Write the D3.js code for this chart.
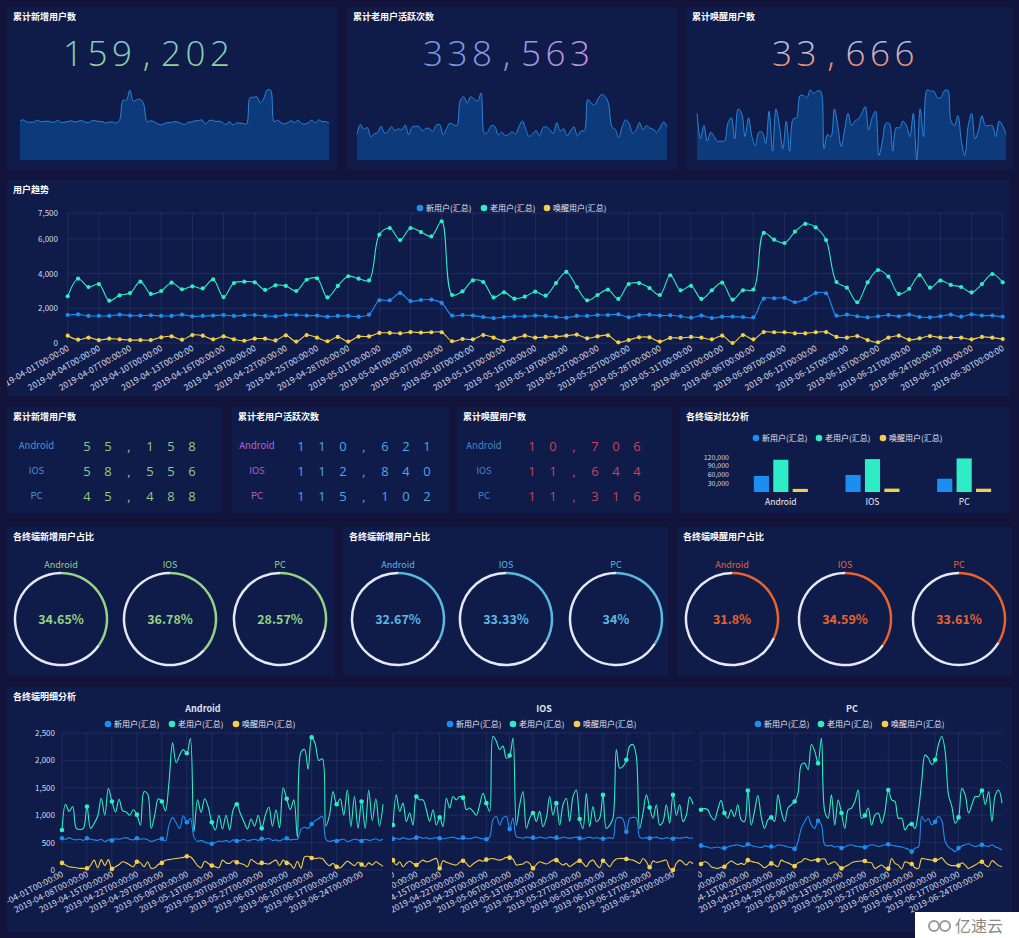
<!DOCTYPE html>
<html><head><meta charset="utf-8">
<script src="https://cdn.jsdelivr.net/npm/d3@7"></script>
<style>
html,body{margin:0;padding:0;background:#13143b;}
svg{display:block}
</style></head><body>
<svg id="c" width="1019" height="938"></svg>
<script>
// ---------------- DATA ----------------
const dates = d3.utcDay.range(Date.UTC(2019,3,1), Date.UTC(2019,6,1)).map(d3.utcFormat("%Y-%m-%dT%H:%M:%S"));
const seriesNames = ["新用户(汇总)","老用户(汇总)","唤醒用户(汇总)"];
const terminals = ["Android","IOS","PC"];

const totalNew = 159202, totalOld = 338563, totalWake = 33666;

const newTotal = [1615,1650,1560,1560,1560,1635,1580,1580,1600,1560,
1560,1635,1540,1560,1580,1615,1560,1600,1615,1560,
1540,1615,1615,1580,1580,1520,1560,1560,1520,1635,
2460,2460,2880,2420,2480,2500,2310,1580,1615,1580,
1500,1440,1500,1540,1540,1580,1560,1500,1460,1560,
1560,1615,1615,1650,1480,1615,1635,1580,1600,1540,
1460,1580,1440,1520,1520,1500,1480,2560,2580,2600,
2350,2540,2880,2870,1580,1635,1540,1480,1540,1615,
1540,1635,1500,1480,1540,1635,1520,1650,1580,1580,1520];
const oldTotal = [2690,3710,3230,3400,2440,2750,2880,3540,2830,3000,
3480,3100,3270,3150,3670,2650,3460,3540,3500,3060,
3330,3290,3000,3650,3730,2630,3290,3850,3710,3610,
6250,6630,5940,6630,6400,6150,7020,2770,2980,3610,
3520,2630,2920,2560,2670,2960,2730,3460,4100,3230,
2460,2770,3080,2540,3400,3460,3170,2770,3910,3040,
3290,2540,3040,3480,2500,3040,3080,6350,5960,5770,
6420,6870,6670,5940,3520,3190,2350,3500,4210,3830,
2830,3130,3920,3190,3600,3350,3230,2920,3400,3980,3500];
const wakeTotal = [420,190,310,170,250,210,170,170,170,330,
380,190,460,420,210,380,210,130,250,250,
150,440,80,460,310,100,350,80,370,380,
580,580,560,630,600,620,620,100,230,210,
460,310,120,270,420,310,350,370,420,480,
270,380,440,40,170,330,330,80,290,290,
350,310,210,420,0,460,210,630,620,620,
560,560,620,630,350,310,400,170,40,310,
420,190,270,400,310,310,310,210,350,310,230];

const newByTerminal = [55158,58556,45488];
const oldByTerminal = [110621,112840,115102];
const wakeByTerminal = [10706,11644,11316];
const newShare = ["34.65%","36.78%","28.57%"];
const oldShare = ["32.67%","33.33%","34%"];
const wakeShare = ["31.8%","34.59%","33.61%"];

const trendTicks = [0,2000,4000,6000,7500];
const barTicks = [30000,60000,90000,120000];
const detailTicks = [0,500,1000,1500,2000,2500];

const androidNew = [580,560,590,560,550,560,540,580,560,550,
540,560,520,550,540,570,560,580,590,560,
550,580,560,570,550,520,540,560,570,530,
820,960,860,760,990,870,940,600,520,540,
510,490,480,500,530,520,540,510,550,530,
540,560,530,550,560,540,570,560,580,540,
550,530,560,580,550,560,560,740,780,760,
840,900,940,980,560,520,540,530,550,560,
520,540,560,550,530,560,540,550,570,540,560];
const androidOld = [730,1200,1070,1160,760,740,760,1160,760,850,
980,1310,1000,1490,1250,1060,1290,1080,1060,1000,
1100,1010,820,1430,1390,760,1000,1300,1250,1080,
1600,2320,1960,2100,2200,2130,2400,700,1280,1050,
1300,1150,870,730,1000,750,1000,730,1100,1200,
1030,880,750,930,800,1000,760,1000,1150,800,
1100,770,1500,1300,1100,1280,600,2150,2200,1840,
2420,2300,2000,2030,800,1000,1430,1200,1300,1000,
1460,790,1340,760,1250,760,1460,900,1300,800,1200];
const androidWake = [130,90,60,50,40,30,30,30,80,180,
40,190,80,190,20,60,100,150,130,90,
60,150,130,60,150,30,40,100,130,180,
190,200,210,220,230,250,240,170,80,40,
160,120,80,60,40,180,130,120,170,140,
120,100,60,190,150,110,130,120,110,150,
180,80,180,130,110,30,160,30,240,250,
220,210,220,210,130,80,120,60,40,100,
160,120,80,140,100,60,130,90,150,110,70];

const iosNew = [570,580,560,590,570,560,580,590,600,580,
590,570,580,590,580,570,580,590,600,580,
570,590,580,570,590,600,580,570,560,600,
920,980,820,950,980,750,950,610,590,580,
600,590,590,580,600,590,580,600,590,590,
580,600,590,580,590,600,580,570,590,600,
580,590,580,570,580,590,580,940,960,930,
700,940,960,950,600,580,590,580,590,600,
580,570,590,580,570,590,580,590,600,580,590];
const iosOld = [820,1370,1070,1220,885,1040,820,1340,1280,1280,
1100,885,1100,820,960,790,1310,1130,1340,1280,
1340,1320,1100,1130,1070,1000,1190,1400,1220,1070,
2440,2350,2200,2260,2040,2090,2410,820,1190,1430,
760,945,1040,885,1070,790,945,1340,1000,1220,
820,1190,1310,885,1340,1460,930,760,1400,790,
1160,885,945,1370,760,820,945,2200,1860,1890,
2010,2260,2290,2070,760,1040,1370,1140,945,1190,
820,885,1190,855,1370,1000,1190,885,1000,1330,1200];
const iosWake = [180,90,150,60,120,160,120,90,140,180,
150,160,190,210,30,170,140,120,100,90,
140,170,120,60,110,150,180,160,190,200,
210,190,180,200,230,225,200,90,100,110,
150,120,30,100,150,130,110,140,180,180,
130,90,120,60,100,140,170,120,60,150,
180,100,40,170,120,60,150,200,210,210,
200,190,180,150,120,210,150,50,165,140,
150,170,180,30,0,120,180,140,90,150,110];

const pcNew = [445,430,420,400,410,420,400,400,420,440,
450,460,440,430,470,450,430,420,410,440,
430,430,420,460,450,440,420,410,385,520,
760,880,975,820,760,900,820,460,440,450,
420,430,400,420,450,460,440,430,420,415,
440,460,450,430,440,460,470,450,440,430,
420,400,380,335,400,420,975,885,940,820,
880,975,900,520,420,380,335,400,440,460,
480,450,430,445,460,440,430,460,420,400,366];
const pcOld = [1100,1120,1100,975,915,1100,1270,1040,945,1100,
975,1190,915,885,1450,820,1070,1360,975,760,
915,960,885,1370,1070,885,1130,1190,1250,1400,
1920,1950,1830,2290,2170,1950,2410,1070,945,1370,
820,1280,1040,760,1100,1130,1250,1460,945,995,
1130,820,1000,1040,855,1070,1460,1280,1250,945,
945,730,820,840,760,1070,1620,2100,2040,1920,
2010,2290,2440,2170,1370,1160,855,960,1490,1370,
1040,1190,1340,1340,1450,1190,1430,885,1370,1460,1220];
const pcWake = [110,150,130,60,40,30,50,60,120,165,
130,100,120,100,180,160,140,130,90,40,
80,120,90,60,180,150,130,100,70,130,
150,210,190,170,190,180,200,200,100,130,
150,90,30,60,90,130,150,160,165,165,
140,130,30,60,90,40,25,210,120,90,
20,150,130,110,40,30,210,200,190,180,
180,190,225,150,100,80,80,80,130,90,
30,60,90,130,150,90,60,170,130,80,60];

// ---------------- STYLE / LAYOUT ----------------
const FONT = '"Noto Sans CJK SC","Noto Sans",sans-serif';
const NUMF = '"Open Sans","Noto Sans",sans-serif';
const COL = {panel:"#0f1b48", grid:"rgba(110,130,200,0.17)", text:"#d6daec",
  blue:"#1b8ef2", teal:"#2eecc6", yellow:"#f3d04a"};
const seriesColors = [COL.blue, COL.teal, COL.yellow];
const smooth = d3.curveCatmullRom.alpha(0.5);

const svg = d3.select("#c");
const defs = svg.append("defs");

const panels = [
  {x:7,y:7,w:330,h:163,t:"累计新增用户数"},
  {x:347,y:7,w:330,h:163,t:"累计老用户活跃次数"},
  {x:686,y:7,w:327,h:163,t:"累计唤醒用户数"},
  {x:7,y:180,w:1003,h:216,t:"用户趋势"},
  {x:7,y:407,w:215,h:106,t:"累计新增用户数"},
  {x:232,y:407,w:217,h:106,t:"累计老用户活跃次数"},
  {x:457,y:407,w:215,h:106,t:"累计唤醒用户数"},
  {x:680,y:407,w:330,h:106,t:"各终端对比分析"},
  {x:7,y:527,w:327,h:148,t:"各终端新增用户占比"},
  {x:343,y:527,w:325,h:148,t:"各终端新增用户占比"},
  {x:677,y:527,w:335,h:148,t:"各终端唤醒用户占比"},
  {x:7,y:687,w:1005,h:245,t:"各终端明细分析"}
];
panels.forEach(p=>{
  svg.append("rect").attr("x",p.x).attr("y",p.y).attr("width",p.w).attr("height",p.h).attr("fill",COL.panel);
  svg.append("text").attr("x",p.x+6).attr("y",p.y+13).text(p.t)
    .attr("font-family",FONT).attr("font-size",9).attr("font-weight","bold").attr("fill","#ffffff");
});

function clip(id,x,y,w,h){
  defs.append("clipPath").attr("id",id).append("rect").attr("x",x).attr("y",y).attr("width",w).attr("height",h);
  return "url(#"+id+")";
}
// text laid out in fixed-width character slots
function slotText(str, cx0, y, slot, size, fill, weight){
  const g=svg.append("g");
  g.selectAll(null).data(str.split("")).join("text")
    .attr("x",(c,i)=>cx0+slot*i).attr("y",y).attr("text-anchor","middle").text(c=>c)
    .attr("font-family",NUMF).attr("font-size",size).attr("font-weight",weight||400).attr("fill",fill);
  return g;
}

// ---------------- TOP: big numbers + sparklines ----------------
function grad(id,x1,y1,x2,y2,stops){
  const g=defs.append("linearGradient").attr("id",id).attr("gradientUnits","userSpaceOnUse")
    .attr("x1",x1).attr("y1",y1).attr("x2",x2).attr("y2",y2);
  stops.forEach(s=>g.append("stop").attr("offset",s[0]).attr("stop-color",s[1]));
  return "url(#"+id+")";
}
const fmt = d3.format(",");
const tops = [
  {val:totalNew, data:newTotal, cx:73, fill:grad("g1",0,40,0,66,[[0,"#79cbd4"],[1,"#92d49a"]]), xr:[20,329], yTop:90},
  {val:totalOld, data:oldTotal, cx:433, fill:grad("g2",425,0,590,0,[[0,"#6a9de8"],[1,"#c891e0"]]), xr:[357,667], yTop:93},
  {val:totalWake, data:wakeTotal, cx:782, fill:grad("g3",0,40,0,66,[[0,"#a9c6ea"],[0.45,"#c9bccd"],[1,"#f08c72"]]), xr:[697,1006], yTop:90}
];
tops.forEach(t=>{
  slotText(fmt(t.val), t.cx, 66, 24.5, 35, t.fill, 300);
  const xs=d3.scalePoint().domain(dates).range(t.xr);
  const ys=d3.scaleLinear().domain([0,d3.max(t.data)]).range([160,t.yTop]);
  const area=d3.area().x((d,i)=>xs(dates[i])).y0(160).y1(d=>ys(d)).curve(smooth);
  const line=d3.line().x((d,i)=>xs(dates[i])).y(d=>ys(d)).curve(smooth);
  svg.append("path").datum(t.data).attr("d",area).attr("fill","#0c3a7b");
  svg.append("path").datum(t.data).attr("d",line).attr("fill","none").attr("stroke","#2c86da").attr("stroke-width",1);
});

// ---------------- helpers ----------------
function legend(g, xs, y){
  seriesNames.forEach((n,i)=>{
    g.append("circle").attr("cx",xs[i]).attr("cy",y).attr("r",3.3).attr("fill",seriesColors[i]);
    g.append("text").attr("x",xs[i]+6).attr("y",y+3).text(n)
      .attr("font-family",FONT).attr("font-size",8).attr("fill","#e4e6f2");
  });
}
function drawSeries(g, xs, ys, vals, color, showSym, r){
  const line=d3.line().x((d,i)=>xs(dates[i])).y(d=>ys(d)).curve(smooth);
  g.append("path").datum(vals).attr("d",line).attr("fill","none").attr("stroke",color).attr("stroke-width",1.1);
  g.selectAll(null).data(vals.map((v,i)=>({v,i})).filter(d=>showSym(d.i))).join("circle")
    .attr("cx",d=>xs(dates[d.i])).attr("cy",d=>ys(d.v)).attr("r",r).attr("fill",color);
}

// ---------------- TREND ----------------
{
  const g=svg.append("g").attr("clip-path",clip("cpTrend",7,180,1003,216));
  const xs=d3.scalePoint().domain(dates).range([67.7,1002.7]);
  const ys=d3.scaleLinear().domain([0,7500]).range([343,213]);
  g.selectAll(null).data(trendTicks).join("line")
    .attr("x1",67.7).attr("x2",1002.7).attr("y1",d=>ys(d)).attr("y2",d=>ys(d)).attr("stroke",COL.grid);
  const lab=dates.filter((d,i)=>i%3===0);
  g.selectAll(null).data(lab).join("line")
    .attr("x1",d=>xs(d)).attr("x2",d=>xs(d)).attr("y1",213).attr("y2",343).attr("stroke",COL.grid);
  g.selectAll(null).data(trendTicks).join("text")
    .attr("x",58).attr("y",d=>ys(d)+3).attr("text-anchor","end").text(fmt)
    .attr("font-family",FONT).attr("font-size",8).attr("fill",COL.text);
  g.selectAll(null).data(lab).join("text")
    .attr("transform",d=>`translate(${xs(d)+2},${350}) rotate(-30)`).attr("text-anchor","end").text(d=>d)
    .attr("font-family",FONT).attr("font-size",8.5).attr("fill",COL.text);
  [newTotal,oldTotal,wakeTotal].forEach((s,k)=>drawSeries(g,xs,ys,s,seriesColors[k],()=>true,2.1));
  legend(svg.append("g"),[420,484,547],208);
}

// ---------------- MIDDLE STATS ----------------
const statPanels = [
  {vals:newByTerminal, lx:36.5, nx:87, lc:"#4b93d4", nc:"#8ecc86"},
  {vals:oldByTerminal, lx:257, nx:301, lc:"#b463d8", nc:"#4ea6ea"},
  {vals:wakeByTerminal, lx:484, nx:532, lc:"#4087cc", nc:"#c9445c"}
];
const statRows = [449,474,499];
statPanels.forEach(p=>{
  terminals.forEach((t,i)=>{
    svg.append("text").attr("x",p.lx).attr("y",statRows[i]).attr("text-anchor","middle").text(t)
      .attr("font-family",FONT).attr("font-size",9.5).attr("fill",p.lc);
    slotText(fmt(p.vals[i]), p.nx, statRows[i]+1.5, 21, 13, p.nc, 400);
  });
});

// ---------------- BAR CHART ----------------
{
  const g=svg.append("g");
  const x0=d3.scaleBand().domain(terminals).range([735,1010]);
  const x1=d3.scaleBand().domain([0,1,2]).range([-27,27]).paddingInner(0.22);
  const ys=d3.scaleLinear().domain([0,120000]).range([492,457]);
  const sets=[newByTerminal,oldByTerminal,wakeByTerminal];
  g.selectAll(null).data(barTicks).join("text").attr("x",729).attr("y",d=>ys(d)+2.5).attr("text-anchor","end")
    .text(fmt).attr("font-family",FONT).attr("font-size",7).attr("fill",COL.text);
  terminals.forEach((t,ti)=>{
    const cx=x0(t)+x0.bandwidth()/2;
    sets.forEach((s,k)=>{
      g.append("rect").attr("x",cx+x1(k)).attr("width",x1.bandwidth())
        .attr("y",ys(s[ti])).attr("height",492-ys(s[ti])).attr("fill",seriesColors[k]);
    });
    g.append("text").attr("x",cx).attr("y",505).attr("text-anchor","middle").text(t)
      .attr("font-family",FONT).attr("font-size",8.5).attr("fill","#eef0f8");
  });
  legend(g,[756,819,883],438);
}

// ---------------- RINGS ----------------
const ringPanels = [
  {share:newShare, cx:[61,170,280], color:"#93d386"},
  {share:oldShare, cx:[398,506,616], color:"#5ab9e0"},
  {share:wakeShare, cx:[732,845,959], color:"#e8642c"}
];
ringPanels.forEach(p=>{
  terminals.forEach((t,i)=>{
    const pct=parseFloat(p.share[i])/100;
    const g=svg.append("g").attr("transform",`translate(${p.cx[i]},619)`);
    const arc=d3.arc().innerRadius(44.8).outerRadius(47.3);
    g.append("path").attr("d",arc({startAngle:2*Math.PI*pct,endAngle:2*Math.PI})).attr("fill","#e7e7f3");
    g.append("path").attr("d",arc({startAngle:0,endAngle:2*Math.PI*pct})).attr("fill",p.color);
    g.append("text").attr("y",4.5).attr("text-anchor","middle").text(p.share[i])
      .attr("font-family",FONT).attr("font-size",12.5).attr("font-weight","bold").attr("fill",p.color);
    svg.append("text").attr("x",p.cx[i]).attr("y",568).attr("text-anchor","middle").text(t)
      .attr("font-family",FONT).attr("font-size",9).attr("fill",p.color);
  });
});

// ---------------- DETAIL CHARTS ----------------
const detail = [
  {name:"Android", s:[androidNew,androidOld,androidWake], xr:[62,383], clipX:[7,392], title:203, leg:[108,172,236], yAxis:true},
  {name:"IOS", s:[iosNew,iosOld,iosWake], xr:[393,693], clipX:[392,698], title:544, leg:[450,513,577], yAxis:false},
  {name:"PC", s:[pcNew,pcOld,pcWake], xr:[701,1002], clipX:[698,1012], title:852, leg:[758,821,885], yAxis:false}
];
detail.forEach((d,k)=>{
  const g=svg.append("g").attr("clip-path",clip("cpd"+k,d.clipX[0],687,d.clipX[1]-d.clipX[0],245));
  const xs=d3.scalePoint().domain(dates).range(d.xr);
  const ys=d3.scaleLinear().domain([0,2500]).range([870,733]);
  g.selectAll(null).data(detailTicks).join("line")
    .attr("x1",d.xr[0]).attr("x2",d.xr[1]).attr("y1",v=>ys(v)).attr("y2",v=>ys(v)).attr("stroke",COL.grid);
  const lab=dates.filter((v,i)=>i%7===0);
  g.selectAll(null).data(lab).join("line")
    .attr("x1",v=>xs(v)).attr("x2",v=>xs(v)).attr("y1",733).attr("y2",870).attr("stroke",COL.grid);
  if(d.yAxis){
    g.selectAll(null).data(detailTicks).join("text").attr("x",55).attr("y",v=>ys(v)+3).attr("text-anchor","end")
      .text(fmt).attr("font-family",FONT).attr("font-size",8).attr("fill",COL.text);
  }
  g.selectAll(null).data(lab).join("text")
    .attr("transform",v=>`translate(${xs(v)+2},${876}) rotate(-27)`).attr("text-anchor","end").text(v=>v)
    .attr("font-family",FONT).attr("font-size",8.5).attr("fill",COL.text);
  d.s.forEach((s,j)=>drawSeries(g,xs,ys,s,seriesColors[j],i=>i%7===0,2.3));
  svg.append("text").attr("x",d.title).attr("y",712).attr("text-anchor","middle").text(d.name)
    .attr("font-family",FONT).attr("font-size",9).attr("font-weight","bold").attr("fill","#dfe2ee");
  legend(svg.append("g"),d.leg,724);
});

// watermark
svg.append("rect").attr("x",915).attr("y",912).attr("width",104).attr("height",26).attr("fill","#ffffff");
svg.append("circle").attr("cx",934).attr("cy",926).attr("r",5).attr("fill","none").attr("stroke","#9a9a9a").attr("stroke-width",2);
svg.append("circle").attr("cx",945).attr("cy",926).attr("r",5).attr("fill","none").attr("stroke","#9a9a9a").attr("stroke-width",2);
svg.append("text").attr("x",955).attr("y",932).text("亿速云").attr("font-family",FONT).attr("font-size",16).attr("fill","#8a8a8a");
</script>
</body></html>
